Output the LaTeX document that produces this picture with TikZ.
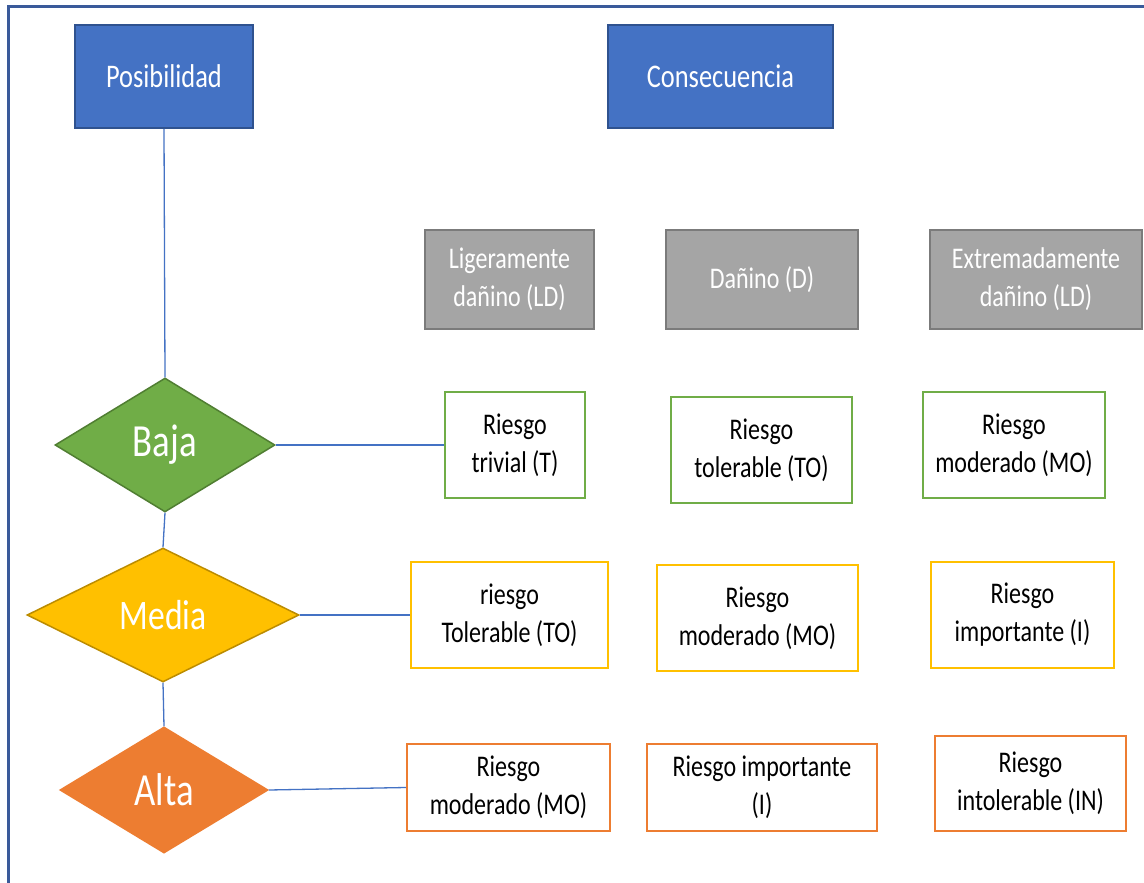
\documentclass[tikz,border=0pt]{standalone}
\usepackage{fontspec}
\setmainfont{Carlito}[FakeStretch=0.8]
\usetikzlibrary{shapes.geometric}
\definecolor{bluef}{HTML}{4472C4}
\definecolor{blued}{HTML}{2F528F}
\definecolor{grayf}{HTML}{A5A5A5}
\definecolor{grayd}{HTML}{7B7B7B}
\definecolor{greenf}{HTML}{70AD47}
\definecolor{greend}{HTML}{507E32}
\definecolor{yellowf}{HTML}{FFC000}
\definecolor{yellowd}{HTML}{BC8C00}
\definecolor{orangef}{HTML}{ED7D31}
\definecolor{framec}{HTML}{3A5A9A}
\tikzset{
  hdr/.style={rectangle, fill=bluef, draw=blued, line width=2pt, inner sep=0pt,
    text=white, font=\fontsize{33}{40}\selectfont},
  cat/.style={rectangle, fill=grayf, draw=grayd, line width=2pt, inner sep=0pt,
    text=white, align=center, font=\fontsize{30}{38}\selectfont},
  lvl/.style={diamond, inner sep=0pt, line width=1.5pt, text=white},
  cell/.style={rectangle, fill=white, line width=2pt, inner sep=0pt,
    text=black, align=center, font=\fontsize{30}{38}\selectfont},
  link/.style={draw=bluef, line width=1.3pt}
}
\begin{document}
\begin{tikzpicture}[x=1pt,y=-1pt]
\useasboundingbox (0,0) rectangle (1144,883);
\fill[white] (0,0) rectangle (1144,883);
\draw[framec, line width=3pt] (8,883) -- (8,7) -- (1144,7);

\node[hdr, minimum width=178pt, minimum height=103pt] (pos) at (164,76.5) {Posibilidad};
\node[hdr, minimum width=225pt, minimum height=103pt] (con) at (720.5,76.5) {Consecuencia};

\node[cat, minimum width=169pt, minimum height=99pt] (ld) at (509.5,279.5) {Ligeramente\\dañino (LD)};
\node[cat, minimum width=192pt, minimum height=99pt] (d) at (762,279.5) {Dañino (D)};
\node[cat, minimum width=212pt, minimum height=99pt] (eld) at (1036,279.5) {Extremadamente\\dañino (LD)};

\node[lvl, fill=greenf, draw=greend, minimum width=220pt, minimum height=134pt,
  font=\fontsize{46}{50}\selectfont] (baja) at (165,445) {Baja};
\node[lvl, fill=yellowf, draw=yellowd, minimum width=272pt, minimum height=134pt,
  font=\fontsize{42}{46}\selectfont] (media) at (163,615) {Media};
\node[lvl, fill=orangef, draw=orangef, minimum width=208pt, minimum height=126pt,
  font=\fontsize{46}{50}\selectfont] (alta) at (164,790) {Alta};

\node[cell, draw=greenf, minimum width=140pt, minimum height=106pt] (b11) at (515,445) {Riesgo\\trivial (T)};
\node[cell, draw=greenf, minimum width=181pt, minimum height=106pt] (b12) at (761.5,450) {Riesgo\\tolerable (TO)};
\node[cell, draw=greenf, minimum width=182pt, minimum height=106pt] (b13) at (1014,445) {Riesgo\\moderado (MO)};

\node[cell, draw=yellowf, minimum width=197pt, minimum height=106pt] (b21) at (509.5,615) {riesgo\\Tolerable (TO)};
\node[cell, draw=yellowf, minimum width=201pt, minimum height=106pt] (b22) at (757.5,618) {Riesgo\\moderado (MO)};
\node[cell, draw=yellowf, minimum width=183pt, minimum height=106pt] (b23) at (1022.5,615) {Riesgo\\importante (I)};

\node[cell, draw=orangef, minimum width=203pt, minimum height=87pt] (b31) at (508.5,787.5) {Riesgo\\moderado (MO)};
\node[cell, draw=orangef, minimum width=230pt, minimum height=87pt] (b32) at (762,787.5) {Riesgo importante\\(I)};
\node[cell, draw=orangef, minimum width=191pt, minimum height=95pt] (b33) at (1030.5,783.5) {Riesgo\\intolerable (IN)};

\draw[link] (pos.south) -- (baja.north);
\draw[link] (baja.south) -- (media.north);
\draw[link] (media.south) -- (alta.north);
\draw[link] (baja.east) -- (b11.west);
\draw[link] (media.east) -- (b21.west);
\draw[link] (alta.east) -- (b31.west);
\end{tikzpicture}
\end{document}
